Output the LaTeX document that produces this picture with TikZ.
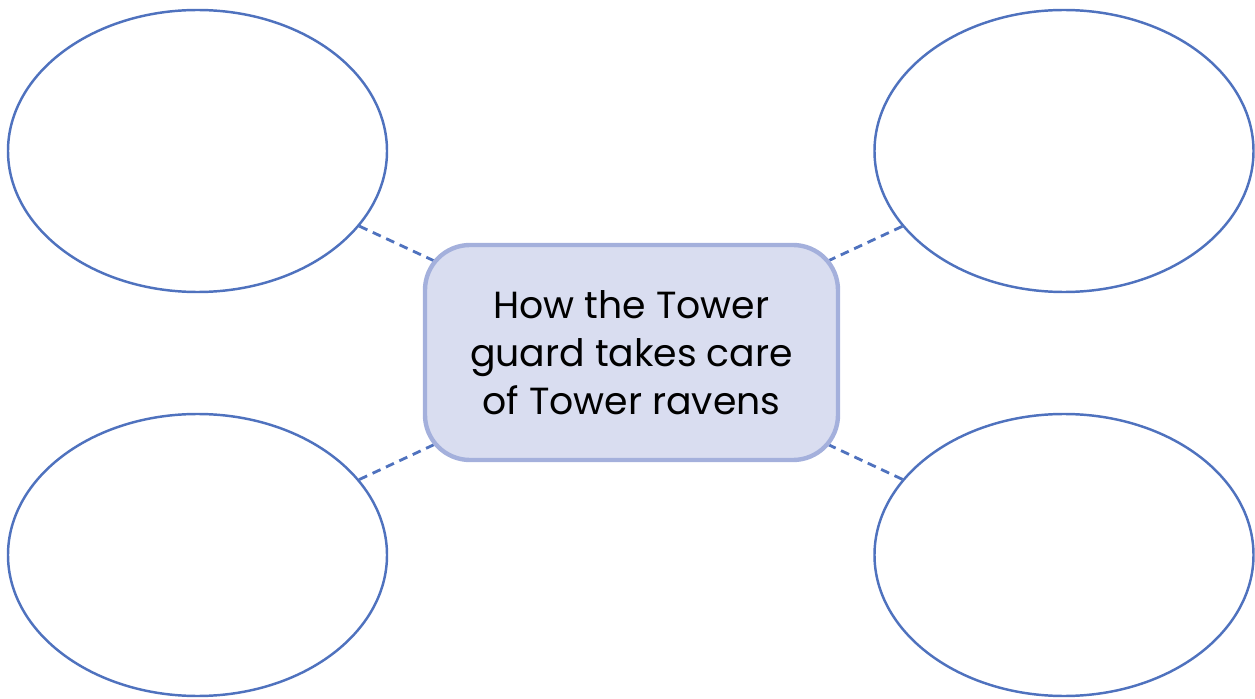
\documentclass[tikz,border=0pt]{standalone}
\usepackage{fontspec}
\setmainfont{Poppins}
\usetikzlibrary{shapes.geometric, backgrounds}
\definecolor{ringblue}{HTML}{4F72BE}
\definecolor{boxfill}{HTML}{D9DDF0}
\definecolor{boxline}{HTML}{A4B0DC}
\tikzstyle{bubble} = [ellipse, minimum width=7.58cm, minimum height=5.64cm, inner sep=0pt, draw=ringblue, line width=1.4pt]
\tikzstyle{topic} = [rectangle, rounded corners=0.9cm, minimum width=8.26cm, minimum height=4.3cm, text centered, align=center, draw=boxline, line width=2.5pt, fill=boxfill, font=\fontsize{21.5}{27.3}\selectfont]
\tikzstyle{link} = [ringblue, line width=1.6pt, dash pattern=on 5pt off 3.4pt]
\begin{document}
\begin{tikzpicture}

\useasboundingbox (0,0) rectangle (25.1,13.96);

\node (topic) [topic] at (12.63,6.91) {How the Tower\\guard takes care\\of Tower ravens};
\node (tl) [bubble] at (3.95,10.94) {};
\node (tr) [bubble] at (21.28,10.94) {};
\node (bl) [bubble] at (3.95,2.86) {};
\node (br) [bubble] at (21.28,2.86) {};

% dashed links go under the topic box
\begin{scope}[on background layer]
\draw [link] (tl) -- (topic.center);
\draw [link] (tr) -- (topic.center);
\draw [link] (bl) -- (topic.center);
\draw [link] (br) -- (topic.center);
\end{scope}

\end{tikzpicture}
\end{document}
